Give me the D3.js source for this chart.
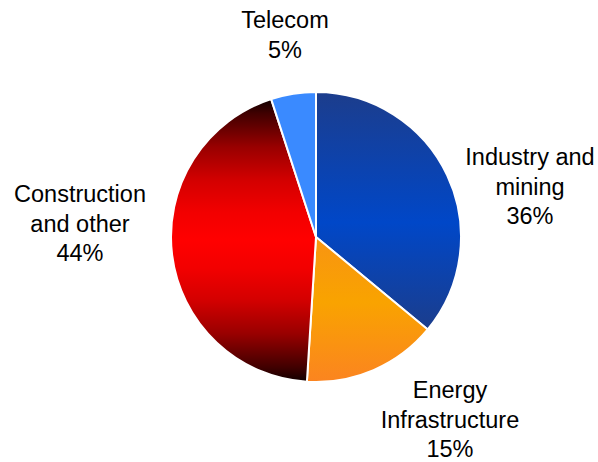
<!DOCTYPE html>
<html>
<head>
<meta charset="utf-8">
<script src="https://cdn.jsdelivr.net/npm/d3@7"></script>
<style>
  body { margin: 0; background: #fff; }
  svg { display: block; font-family: "Liberation Sans", Arial, sans-serif; }
</style>
</head>
<body>
<svg id="chart" width="598" height="462"></svg>
<script>
// data, clockwise from 12 o'clock
const sectors = ["Industry and mining", "Energy Infrastructure", "Construction and other", "Telecom"];
const shares = [36, 15, 44, 5];
const labelLines = [["Industry and", "mining"], ["Energy", "Infrastructure"], ["Construction", "and other"], ["Telecom"]];

// layout only
const cx = 316, cy = 237, radius = 145;
const labelPos = [[530, 165], [450, 398], [80, 202], [285, 28]];
const lineH = 29.5;

const svg = d3.select("#chart");
const defs = svg.append("defs");

// vertical gradients, one per slice
const grads = [
  { id: "gInd", stops: [[0, "#1c3d8c"], [0.55, "#0047c8"], [1, "#1b3d8c"]] },
  { id: "gEn", stops: [[0, "#f89412"], [0.45, "#f9a300"], [1, "#fb8420"]] },
  { id: "gCon", stops: [[0, "#100000"], [0.05, "#400000"], [0.17, "#990000"], [0.29, "#d40000"],
                         [0.4, "#f20000"], [0.5, "#ff0000"], [0.6, "#f20000"], [0.71, "#d40000"],
                         [0.83, "#990000"], [0.95, "#400000"], [1, "#100000"]] },
  { id: "gTel", stops: [[0, "#3a8aff"], [1, "#3a8aff"]] }
];
grads.forEach(g => {
  const lg = defs.append("linearGradient")
    .attr("id", g.id)
    .attr("x1", 0).attr("y1", 0).attr("x2", 0).attr("y2", 1);
  lg.selectAll("stop").data(g.stops).enter().append("stop")
    .attr("offset", d => d[0])
    .attr("stop-color", d => d[1]);
});

const pie = d3.pie().sort(null).value(d => d)(shares);
const arc = d3.arc().innerRadius(0).outerRadius(radius);

const g = svg.append("g").attr("transform", `translate(${cx},${cy})`);

g.selectAll("path")
  .data(pie)
  .enter()
  .append("path")
  .attr("d", arc)
  .attr("fill", (d, i) => `url(#${grads[i].id})`)
  .attr("stroke", "#fff")
  .attr("stroke-width", 2)
  .attr("stroke-linejoin", "round");

// labels
sectors.forEach((s, i) => {
  const lines = labelLines[i].concat([shares[i] + "%"]);
  const t = svg.append("text")
    .attr("text-anchor", "middle")
    .attr("font-size", 23.5)
    .attr("fill", "#000");
  lines.forEach((ln, j) => {
    t.append("tspan")
      .attr("x", labelPos[i][0])
      .attr("y", labelPos[i][1] + j * lineH)
      .text(ln);
  });
});
</script>
</body>
</html>
